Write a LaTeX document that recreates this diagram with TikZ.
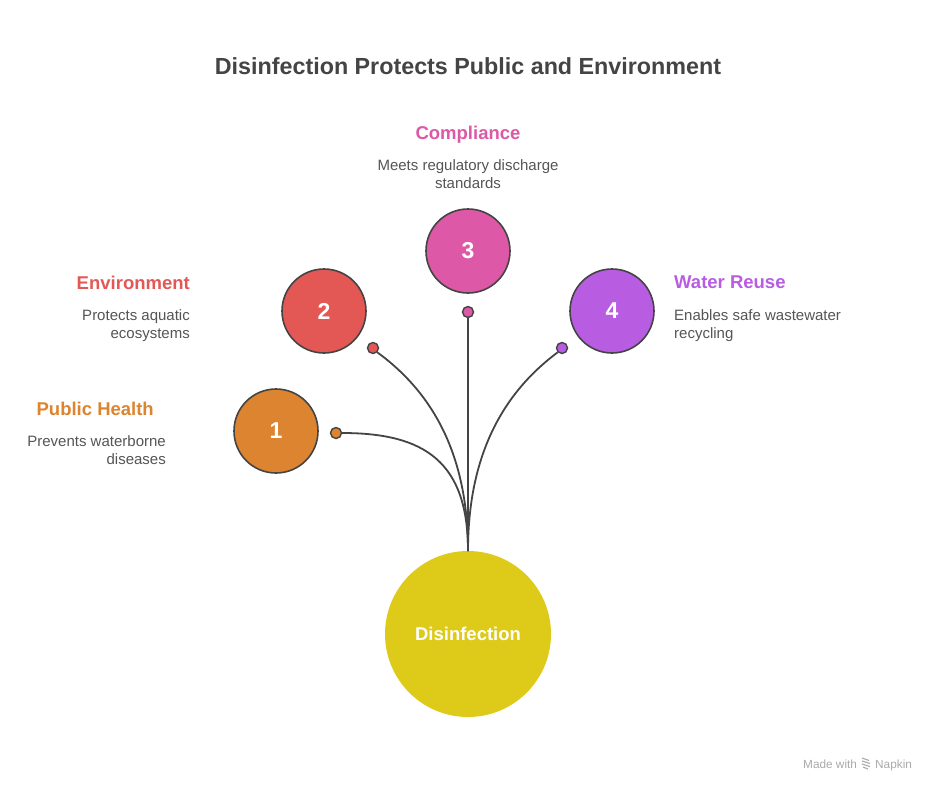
\documentclass[tikz,border=0pt]{standalone}
\usepackage{fontspec}
\setmainfont{Liberation Sans}
\definecolor{cOne}{HTML}{DD8430}
\definecolor{cTwo}{HTML}{E35855}
\definecolor{cThree}{HTML}{DD58A6}
\definecolor{cFour}{HTML}{B85CE2}
\definecolor{cMain}{HTML}{DECA18}
\definecolor{ink}{HTML}{444444}
\definecolor{desc}{HTML}{555555}
\definecolor{foot}{HTML}{AAAAAA}
\tikzset{
  numcirc/.style={circle, draw=ink, line width=1.6pt, minimum size=84pt, inner sep=0pt, text=white, font=\fontsize{23}{23}\selectfont\bfseries},
  dotnode/.style={circle, draw=ink, line width=1.4pt, minimum size=11pt, inner sep=0pt},
  conn/.style={draw=ink, line width=1.8pt},
  headl/.style={font=\fontsize{18.5}{20}\selectfont\bfseries, inner sep=0pt},
  descl/.style={font=\fontsize{15}{18}\selectfont, text=desc, inner sep=0pt},
}
\begin{document}
\begin{tikzpicture}[x=1pt,y=-1pt]
\useasboundingbox[fill=white] (0,0) rectangle (936,793);
\node[font=\fontsize{23.3}{26}\selectfont\bfseries, text=ink, anchor=base, inner sep=0pt] (title) at (468,74.5) {Disinfection Protects Public and Environment};

% main circle
\node[circle, fill=cMain, minimum size=166pt, inner sep=0pt, text=white, font=\fontsize{18.5}{20}\selectfont\bfseries] (main) at (468,634) {Disinfection};
\coordinate (top) at (468,551);

% numbered circles
\node[numcirc, fill=cOne] (n1) at (276,431) {1};
\node[numcirc, fill=cTwo] (n2) at (324,311) {2};
\node[numcirc, fill=cThree] (n3) at (468,251) {3};
\node[numcirc, fill=cFour] (n4) at (612,311) {4};

% dots
\node[dotnode, fill=cOne] (d1) at (336,433) {};
\node[dotnode, fill=cTwo] (d2) at (373,348) {};
\node[dotnode, fill=cThree] (d3) at (468,312) {};
\node[dotnode, fill=cFour] (d4) at (562,348) {};

% connectors
\draw[conn] (d1.east) .. controls (425,433) and (468,462) .. (top);
\draw[conn] (d2.south east) .. controls (433,393) and (468,455) .. (top);
\draw[conn] (d3.south) -- (top);
\draw[conn] (d4.south west) .. controls (503,393) and (468,455) .. (top);

% labels (base anchor of a multi-line node is its last line)
\node[headl, text=cThree, anchor=base] (h3) at (468,139.5) {Compliance};
\node[descl, anchor=base, align=center] (t3) at (468,188) {Meets regulatory discharge\\standards};

\node[headl, text=cTwo, anchor=base east] (h2) at (190,289) {Environment};
\node[descl, anchor=base east, align=right] (t2) at (190,338) {Protects aquatic\\ecosystems};

\node[headl, text=cOne, anchor=base east] (h1) at (154,415) {Public Health};
\node[descl, anchor=base east, align=right] (t1) at (166,464.5) {Prevents waterborne\\diseases};

\node[headl, text=cFour, anchor=base west] (h4) at (674,288.5) {Water Reuse};
\node[descl, anchor=base west, align=left] (t4) at (674,338) {Enables safe wastewater\\recycling};

% footer
\node[font=\fontsize{11.8}{12}\selectfont, text=foot, anchor=base west, inner sep=0pt] (fm) at (803,768) {Made with};
\node[font=\fontsize{11.8}{12}\selectfont, text=foot, anchor=base west, inner sep=0pt] (fn) at (875,768) {Napkin};
\draw[foot, line width=1.1pt] (862,758) -- (869,760.5) (862,761) -- (870,763.5) (862,764) -- (870,766.5) (863,767) -- (868,769);
\end{tikzpicture}
\end{document}
